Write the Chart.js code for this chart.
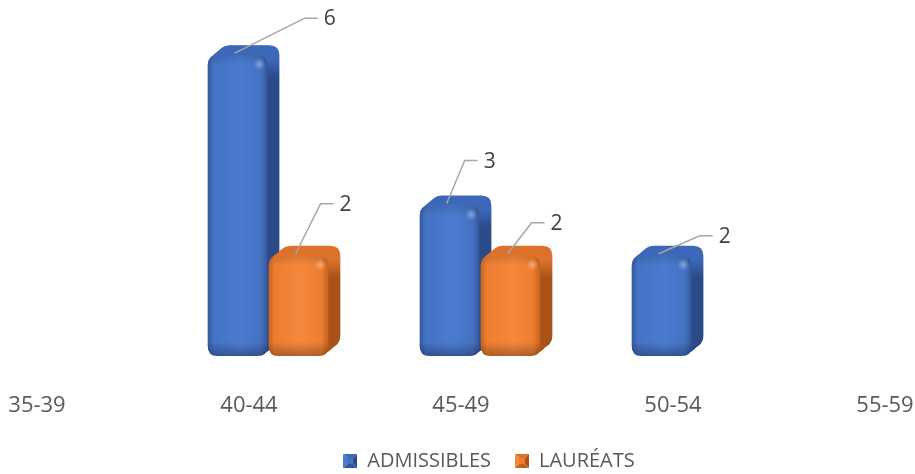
<!DOCTYPE html>
<html>
<head>
<meta charset="utf-8">
<script src="https://cdn.jsdelivr.net/npm/chart.js@4.4.1/dist/chart.umd.min.js"></script>
<style>
  html, body { margin: 0; padding: 0; background: #ffffff; }
  #wrap { width: 915px; height: 474px; position: relative; }
</style>
</head>
<body>
<div id="wrap"><canvas id="ageChart" width="915" height="474"></canvas></div>
<script>
const categories = ["35-39", "40-44", "45-49", "50-54", "55-59"];
const seriesNames = ["ADMISSIBLES", "LAURÉATS"];
const admissibles = [0, 6, 3, 2, 0];
const laureats = [0, 2, 2, 0, 0];

// where each data label's leader line bends, relative to the bar's front top-left corner
const leaderBends = [
    [null, [97, -37], [45, -45], [68, -20], null],
    [null, [52, -52], [51, -33], null, null]
];

const palettes = [
    { front: "#4472c4", light: "#4b7bd0", edge: "#34589a", top: "#3d68b9", side: "#2a4a88" },
    { front: "#ed7d31", light: "#f4883c", edge: "#c4631f", top: "#dc722b", side: "#a9531a" }
];

const shiftX = 19;
const depthX = 12;
const depthY = -10;
const radius = 10;
const legendShiftX = 28;
const legendShiftY = 7;

function roundedPath(ctx, x, y, w, h, r) {
    ctx.beginPath();
    ctx.moveTo(x + r, y);
    ctx.lineTo(x + w - r, y);
    ctx.quadraticCurveTo(x + w, y, x + w, y + r);
    ctx.lineTo(x + w, y + h - r);
    ctx.quadraticCurveTo(x + w, y + h, x + w - r, y + h);
    ctx.lineTo(x + r, y + h);
    ctx.quadraticCurveTo(x, y + h, x, y + h - r);
    ctx.lineTo(x, y + r);
    ctx.quadraticCurveTo(x, y, x + r, y);
    ctx.closePath();
}

function drawBar3d(ctx, x0, top, w, base, pal) {
    const h = base - top;
    const steps = 14;
    for (let i = steps; i >= 1; i--) {
        const t = i / steps;
        const bx = x0 + depthX * t;
        const by = top + depthY * t;
        const g = ctx.createLinearGradient(0, top + depthY, 0, top + 22);
        g.addColorStop(0, pal.top);
        g.addColorStop(0.45, pal.top);
        g.addColorStop(1, pal.side);
        roundedPath(ctx, bx, by, w, h, radius);
        ctx.fillStyle = g;
        ctx.fill();
    }

    const gf = ctx.createLinearGradient(x0, 0, x0 + w, 0);
    gf.addColorStop(0, pal.edge);
    gf.addColorStop(0.1, pal.front);
    gf.addColorStop(0.55, pal.light);
    gf.addColorStop(0.88, pal.front);
    gf.addColorStop(1, pal.edge);
    roundedPath(ctx, x0, top, w, h, radius);
    ctx.fillStyle = gf;
    ctx.fill();

    ctx.save();
    roundedPath(ctx, x0, top, w, h, radius);
    ctx.clip();
    const gb = ctx.createLinearGradient(0, base - 14, 0, base);
    gb.addColorStop(0, "rgba(0,0,0,0)");
    gb.addColorStop(1, "rgba(0,0,0,0.28)");
    ctx.fillStyle = gb;
    ctx.fillRect(x0, base - 14, w, 14);
    const gt = ctx.createLinearGradient(0, top, 0, top + 10);
    gt.addColorStop(0, "rgba(0,0,0,0.12)");
    gt.addColorStop(1, "rgba(0,0,0,0)");
    ctx.fillStyle = gt;
    ctx.fillRect(x0, top, w, 10);
    const spot = ctx.createRadialGradient(x0 + w - 8, top + 9, 0, x0 + w - 8, top + 9, 6);
    spot.addColorStop(0, "rgba(255,255,255,0.35)");
    spot.addColorStop(1, "rgba(255,255,255,0)");
    ctx.fillStyle = spot;
    ctx.fillRect(x0 + w - 16, top + 2, 16, 16);
    ctx.restore();
}

function legendIcon(pal) {
    const c = document.createElement("canvas");
    c.width = 14;
    c.height = 14;
    const g = c.getContext("2d");
    const s = 14, b = 4;
    const tri = (pts, col) => {
        g.beginPath();
        g.moveTo(pts[0], pts[1]);
        for (let i = 2; i < pts.length; i += 2) g.lineTo(pts[i], pts[i + 1]);
        g.closePath();
        g.fillStyle = col;
        g.fill();
    };
    tri([0, 0, s, 0, s - b, b, b, b], pal.top);
    tri([0, 0, b, b, b, s - b, 0, s], pal.light);
    tri([s, 0, s, s, s - b, s - b, s - b, b], pal.side);
    tri([0, s, b, s - b, s - b, s - b, s, s], pal.edge);
    g.fillStyle = pal.front;
    g.fillRect(b, b, s - 2 * b, s - 2 * b);
    return c;
}

const bars3d = {
    id: "bars3d",
    afterLayout(chart) {
        const lg = chart.legend;
        if (lg) {
            lg.left += legendShiftX;
            lg.right += legendShiftX;
            lg.top += legendShiftY;
            lg.bottom += legendShiftY;
        }
    },
    afterDatasetsDraw(chart) {
        const ctx = chart.ctx;
        ctx.save();
        chart.data.datasets.forEach((ds, di) => {
            const meta = chart.getDatasetMeta(di);
            meta.data.forEach((el, i) => {
                if (!ds.data[i]) return;
                const x0 = el.x - el.width / 2 + shiftX;
                drawBar3d(ctx, x0, el.y, el.width, el.base, palettes[di]);
            });
        });
        chart.data.datasets.forEach((ds, di) => {
            const meta = chart.getDatasetMeta(di);
            meta.data.forEach((el, i) => {
                const bend = leaderBends[di][i];
                if (!ds.data[i] || !bend) return;
                const x0 = el.x - el.width / 2 + shiftX;
                const sx = x0 + 27, sy = el.y - 2;
                const bx = x0 + bend[0], by = el.y + bend[1];
                ctx.beginPath();
                ctx.moveTo(sx, sy);
                ctx.lineTo(bx, by);
                ctx.lineTo(bx + 13, by);
                ctx.strokeStyle = "#a6a6a6";
                ctx.lineWidth = 1.5;
                ctx.stroke();
                ctx.fillStyle = "#404040";
                ctx.font = "21px 'Open Sans'";
                ctx.textAlign = "left";
                ctx.textBaseline = "middle";
                ctx.fillText(String(ds.data[i]), bx + 19, by + 1);
            });
        });
        ctx.restore();
    }
};

const ctx = document.getElementById("ageChart").getContext("2d");
new Chart(ctx, {
    type: "bar",
    data: {
        labels: categories,
        datasets: [{
            label: seriesNames[0],
            data: admissibles,
            backgroundColor: "rgba(0,0,0,0)",
            pointStyle: legendIcon(palettes[0]),
            categoryPercentage: 0.575,
            barPercentage: 0.98
        }, {
            label: seriesNames[1],
            data: laureats,
            backgroundColor: "rgba(0,0,0,0)",
            pointStyle: legendIcon(palettes[1]),
            categoryPercentage: 0.575,
            barPercentage: 0.98
        }]
    },
    options: {
        responsive: false,
        animation: false,
        layout: { padding: { left: 37, right: 30, top: 5, bottom: 0 } },
        scales: {
            x: {
                offset: false,
                grid: { display: false },
                border: { display: false },
                ticks: {
                    color: "#595959",
                    font: { family: "'Open Sans'", size: 22 },
                    padding: 29,
                    maxRotation: 0
                },
                afterFit(scale) {
                    scale.height = 64;
                    scale.paddingLeft = 0;
                    scale.paddingRight = 0;
                }
            },
            y: {
                display: false,
                min: 0,
                max: 7
            }
        },
        plugins: {
            legend: {
                position: "bottom",
                labels: {
                    usePointStyle: true,
                    color: "#595959",
                    font: { family: "'Open Sans'", size: 20 },
                    padding: 24,
                    boxWidth: 14,
                    boxHeight: 14
                }
            },
            tooltip: { enabled: false }
        }
    },
    plugins: [bars3d]
});
</script>
</body>
</html>
